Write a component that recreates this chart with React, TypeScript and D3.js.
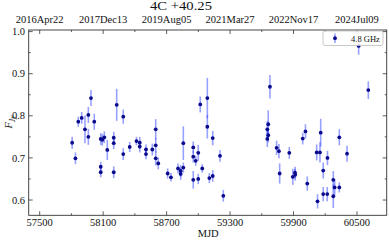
import React from 'react';
import * as d3 from 'd3';

// 4C +40.25 light curve at 4.8 GHz
const mjd = [
  57807, 57838, 57865, 57897, 57928, 57960, 57960, 57985, 58016, 58077,
  58077, 58077, 58092, 58111, 58139, 58200, 58200, 58200, 58228, 58290,
  58290, 58351, 58415, 58446, 58446, 58505, 58505, 58565, 58597, 58597,
  58597, 58621, 58710, 58741, 58808, 58833, 58833, 58858, 58858, 58952,
  58952, 58952, 58975, 58999, 58999, 59037, 59018, 59085, 59085, 59104,
  59136, 59136, 59205, 59236,
  59652, 59661, 59652, 59661, 59677, 59740, 59762, 59769, 59860, 59893,
  59914, 59916, 59987, 60013, 60030, 60119, 60150, 60157, 60127, 60181,
  60181, 60219, 60221, 60276, 60289, 60276, 60333, 60333, 60406, 60516,
  60607,
];
const flux = [
  0.736, 0.699, 0.786, 0.795, 0.768, 0.802, 0.750, 0.842, 0.786, 0.745,
  0.679, 0.666, 0.743, 0.749, 0.719, 0.748, 0.735, 0.666, 0.826, 0.798,
  0.709, 0.726, 0.740, 0.736, 0.727, 0.720, 0.709, 0.720, 0.768, 0.730,
  0.699, 0.687, 0.663, 0.654, 0.675, 0.669, 0.662, 0.735, 0.677, 0.725,
  0.703, 0.648, 0.693, 0.712, 0.650, 0.675, 0.827, 0.842, 0.774, 0.652,
  0.747, 0.657, 0.705, 0.610,
  0.768, 0.780, 0.745, 0.754, 0.869, 0.724, 0.716, 0.663, 0.712, 0.655,
  0.665, 0.660, 0.746, 0.763, 0.639, 0.713, 0.713, 0.760, 0.597, 0.670,
  0.614, 0.614, 0.700, 0.648, 0.630, 0.609, 0.630, 0.749, 0.710, 0.966,
  0.861,
];
const fluxErr = [
  0.014, 0.014, 0.012, 0.014, 0.033, 0.019, 0.019, 0.019, 0.019, 0.014,
  0.012, 0.012, 0.014, 0.014, 0.024, 0.014, 0.014, 0.014, 0.038, 0.017,
  0.014, 0.012, 0.010, 0.014, 0.014, 0.012, 0.012, 0.014, 0.024, 0.017,
  0.017, 0.014, 0.012, 0.010, 0.012, 0.014, 0.014, 0.040, 0.012, 0.014,
  0.014, 0.021, 0.012, 0.019, 0.012, 0.010, 0.019, 0.048, 0.028, 0.012,
  0.017, 0.014, 0.014, 0.014,
  0.019, 0.033, 0.019, 0.017, 0.028, 0.017, 0.017, 0.024, 0.014, 0.019,
  0.014, 0.014, 0.014, 0.017, 0.017, 0.019, 0.024, 0.033, 0.017, 0.019,
  0.017, 0.017, 0.017, 0.021, 0.019, 0.028, 0.012, 0.019, 0.019, 0.021,
  0.021,
];

const xTicks = [57500, 58100, 58700, 59300, 59900, 60500];
const topLabels = ['2016Apr22', '2017Dec13', '2019Aug05', '2021Mar27', '2022Nov17', '2024Jul09'];
const yTicks = [0.6, 0.7, 0.8, 0.9, 1.0];

const W = 389;
const H = 240;
const FONT = '"Liberation Serif", "Times New Roman", serif';

export default function App() {
  const left = 28.7, right = 386.7, top = 30, bottom = 215.3;
  const x = d3.scaleLinear().domain([57396, 60781]).range([left, right]);
  const y = d3.scaleLinear().domain([0.5637, 1.0038]).range([bottom, top]);

  const xMinor = d3.range(57200, 60800, 300).filter(v => !xTicks.includes(v) && x(v) > left && x(v) < right);
  const yMinor = d3.range(0.55, 1.01, 0.05).map(v => +v.toFixed(2)).filter(v => !yTicks.includes(v) && y(v) < bottom && y(v) > top);

  const points = mjd.map((m, i) => ({ m, f: flux[i], e: fluxErr[i] }));
  const axisColor = '#333';

  return (
    <div style={{ position: 'absolute', left: 0, top: 0 }}>
      <svg width={W} height={H} style={{ display: 'block', background: '#fff' }} fontFamily={FONT}>
        {/* title */}
        <text x={150} y={9.8} fontSize={12} fill="#111" textLength={62} lengthAdjust="spacingAndGlyphs">4C +40.25</text>

        {/* error bars */}
        <g stroke="#3344ff" strokeOpacity={0.5} strokeWidth={1.6}>
          {points.map((d, i) => (
            <line key={i} x1={x(d.m)} x2={x(d.m)} y1={y(d.f - d.e)} y2={y(d.f + d.e)} />
          ))}
        </g>
        {/* markers */}
        <g fill="#0a0a8c">
          {points.map((d, i) => (
            <circle key={i} cx={x(d.m)} cy={y(d.f)} r={1.9} />
          ))}
        </g>

        {/* frame */}
        <rect x={left} y={top} width={right - left} height={bottom - top} fill="none" stroke={axisColor} strokeWidth={0.9} />

        {/* ticks on all four sides, pointing in */}
        <g stroke={axisColor} strokeWidth={0.8}>
          {xTicks.map(v => (
            <g key={v}>
              <line x1={x(v)} x2={x(v)} y1={bottom} y2={bottom - 4} />
              <line x1={x(v)} x2={x(v)} y1={top} y2={top + 4} />
            </g>
          ))}
          {xMinor.map(v => (
            <g key={v}>
              <line x1={x(v)} x2={x(v)} y1={bottom} y2={bottom - 2} />
              <line x1={x(v)} x2={x(v)} y1={top} y2={top + 2} />
            </g>
          ))}
          {yTicks.map(v => (
            <g key={v}>
              <line x1={left} x2={left + 4} y1={y(v)} y2={y(v)} />
              <line x1={right} x2={right - 4} y1={y(v)} y2={y(v)} />
            </g>
          ))}
          {yMinor.map(v => (
            <g key={v}>
              <line x1={left} x2={left + 2} y1={y(v)} y2={y(v)} />
              <line x1={right} x2={right - 2} y1={y(v)} y2={y(v)} />
            </g>
          ))}
        </g>

        {/* tick labels */}
        <g fontSize={10.5} fill="#111">
          {xTicks.map(v => (
            <text key={v} x={x(v)} y={226} textAnchor="middle">{v}</text>
          ))}
          {xTicks.map((v, i) => (
            <text key={'t' + v} x={x(v)} y={23} textAnchor="middle">{topLabels[i]}</text>
          ))}
          {yTicks.map(v => (
            <text key={v} x={25} y={y(v) + 3.6} textAnchor="end">{v.toFixed(1)}</text>
          ))}
        </g>

        {/* axis labels */}
        <text x={(left + right) / 2 + 0.5} y={237} textAnchor="middle" fontSize={10.5} fill="#111">MJD</text>
        <text transform="translate(12,122) rotate(-90)" textAnchor="middle" fontSize={10.5} fill="#111" fontStyle="italic">
          F<tspan fontSize={7.5} dy={2.5}>Jy</tspan>
        </text>

        {/* legend */}
        <g>
          <rect x={323} y={31} width={60} height={14.5} rx={2} fill="#fff" fillOpacity={0.85} stroke="#bbb" strokeWidth={0.8} />
          <line x1={335} x2={335} y1={33.5} y2={43} stroke="#3344ff" strokeOpacity={0.5} strokeWidth={1.6} />
          <circle cx={335} cy={38.2} r={1.9} fill="#0a0a8c" />
          <text x={351} y={41.5} fontSize={8.5} fill="#111">4.8 GHz</text>
        </g>
      </svg>
    </div>
  );
}
